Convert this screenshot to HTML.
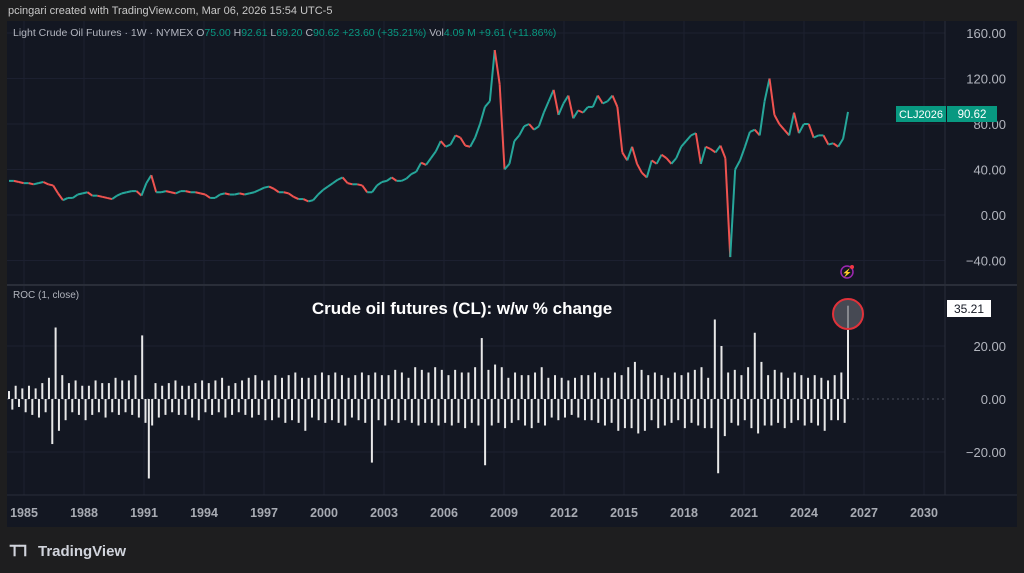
<!DOCTYPE html>
<html><head><meta charset="utf-8"><style>
html,body{margin:0;padding:0;background:#1e1e1f;width:1024px;height:573px;overflow:hidden;font-family:"Liberation Sans",sans-serif}
svg{position:absolute;left:0;top:0}
</style></head><body>
<svg id="c" width="1024" height="573" xmlns="http://www.w3.org/2000/svg">
<text x="8" y="14" fill="#c8c8c8" font-size="11">pcingari created with TradingView.com, Mar 06, 2026 15:54 UTC-5</text>
<rect x="7" y="21" width="1010" height="506" fill="#131722"/>
<g id="grid"></g>
<line x1="7" y1="285" x2="1017" y2="285" stroke="#2a2e39" stroke-width="2"/>
<line x1="945" y1="21" x2="945" y2="495" stroke="#2a2e39"/>
<line x1="7" y1="495" x2="1017" y2="495" stroke="#2a2e39"/>
<text x="13" y="36" font-size="10.5" fill="#b2b5be">Light Crude Oil Futures · 1W · NYMEX <tspan fill="#b2b5be">O</tspan><tspan fill="#089981">75.00</tspan> <tspan fill="#b2b5be">H</tspan><tspan fill="#089981">92.61</tspan> <tspan fill="#b2b5be">L</tspan><tspan fill="#089981">69.20</tspan> <tspan fill="#b2b5be">C</tspan><tspan fill="#089981">90.62</tspan> <tspan fill="#089981">+23.60 (+35.21%)</tspan> <tspan fill="#b2b5be">Vol</tspan><tspan fill="#089981">4.09 M</tspan> <tspan fill="#089981">+9.61 (+11.86%)</tspan></text>
<text x="13" y="298" font-size="10" fill="#b2b5be">ROC (1, close)</text>
<text x="462" y="314" font-size="17" font-weight="bold" fill="#ffffff" text-anchor="middle">Crude oil futures (CL): w/w % change</text>
<g id="price"></g>
<g id="roc"></g>
<g id="axes"></g>
<circle cx="848" cy="314" r="15" fill="#5d6068" fill-opacity="0.7" stroke="#e0323a" stroke-width="2"/>
<circle cx="847" cy="272" r="6" fill="none" stroke="#9c27b0" stroke-width="1.5"/>
<text x="847" y="275.5" font-size="8" fill="#c050e0" text-anchor="middle">⚡</text>
<circle cx="852" cy="267" r="2" fill="#f23645"/>
<rect x="896" y="106" width="50" height="16" fill="#089981"/>
<text x="921" y="118" font-size="11" fill="#fff" text-anchor="middle">CLJ2026</text>
<rect x="947" y="106" width="50" height="16" fill="#089981"/>
<text x="972" y="118" font-size="11.5" fill="#fff" text-anchor="middle">90.62</text>
<rect x="947" y="300" width="44" height="17" fill="#ffffff"/>
<text x="969" y="313" font-size="12" fill="#131722" text-anchor="middle">35.21</text>
<g>
<text x="10" y="556" font-size="15" font-weight="bold" fill="#d1d4dc">ꓔꓶ</text>
<text x="38" y="556" font-size="15" font-weight="bold" fill="#d1d4dc">TradingView</text>
</g>
</svg>
<script>
const years=[1985,1988,1991,1994,1997,2000,2003,2006,2009,2012,2015,2018,2021,2024,2027,2030];
const priceTicks=[160,120,80,40,0,-40];
const rocTicks=[20,0,-20];
// quarterly closes 1984.25 .. 2026.17
const prices=[30,30,29,28,28,27,28,29,27,26,
19,13,15,15, 18,19,20,17, 17,16,15,14, 17,19,20,21, 21,17,28,35, 20,20,21,20, 19,21,21,20, 20,19,18,15,
15,18,19,18, 18,19,18,19, 20,22,24,25, 23,20,20,19, 16,14,14,12, 13,18,22,25, 28,31,33,28, 27,27,26,20,
20,26,29,30, 33,30,30,32, 36,38,46,44, 50,56,65,60, 62,70,68,61, 60,68,80,95, 100,145,115,40, 45,65,70,78,
80,75,78,90, 100,110,88,98, 105,85,92,90, 95,95,105,98, 100,105,95,55, 48,60,45,37, 33,48,45,53, 50,45,50,60,
65,70,72,45, 60,58,55,61, 50,-37,40,48, 60,73,75,70, 100,120,88,80, 75,70,90,72, 80,80,68,70, 70,62,63,60, 67,90.62];
// ROC % change, ~6 per year, 1984.25 .. 2026.17
const roc=[3,-4,5,-3,4,-5,
5,-6,4,-7,6,-5, 8,-17,27,-12,9,-8, 6,-5,7,-6,5,-8, 5,-6,7,-5,6,-7, 6,-5,8,-6,7,-5, 7,-6,9,-7,24,-9, -30,-10,6,-7,5,-6, 6,-5,7,-6,5,-6,
5,-7,6,-8,7,-5, 6,-6,7,-5,8,-7, 5,-6,6,-5,7,-6, 8,-7,9,-6,7,-8, 7,-8,9,-7,8,-9, 9,-8,10,-9,8,-12, 8,-7,9,-8,10,-9,
9,-8,10,-9,9,-10, 8,-7,9,-8,10,-9, 9,-24,10,-8,9,-10, 9,-8,11,-9,10,-8, 8,-9,12,-10,11,-9, 10,-9,12,-10,11,-9, 9,-10,11,-9,10,-11, 10,-9,12,-10,23,-25,
11,-10,13,-9,12,-11, 8,-9,10,-8,9,-10, 9,-11,10,-9,12,-10, 8,-7,9,-8,8,-7, 7,-6,8,-7,9,-8, 9,-8,10,-9,8,-10, 8,-9,10,-12,9,-11, 12,-11,14,-13,11,-12,
9,-8,10,-11,9,-10, 8,-9,10,-8,9,-11, 10,-9,11,-10,12,-11, 8,-11,30,-28,20,-14, 10,-9,11,-10,9,-8, 12,-11,25,-13,14,-10, 9,-10,11,-9,10,-11,
8,-9,10,-8,9,-10, 8,-9,9,-10,8,-12, 7,-8,9,-8,10,-9, 35.21];
const seriesStart=1984.25, seriesEnd=2026.2;

const ns="http://www.w3.org/2000/svg";
const xT=t=>24+(t-1985)*20;
const yP=p=>215-p*1.1375;
const yR=v=>399-v*2.65;
const priceStep=(seriesEnd-seriesStart)/(prices.length-1);
const rocStep=(seriesEnd-seriesStart)/(roc.length-1);
function mk(tag,attrs,parent){const e=document.createElementNS(ns,tag);for(const k in attrs)e.setAttribute(k,attrs[k]);parent.appendChild(e);return e;}
const grid=document.getElementById('grid'),axes=document.getElementById('axes');
years.forEach(y=>{
  const l=mk('line',{x1:xT(y),x2:xT(y),y1:21,y2:495,stroke:'#1c2030'},grid);
  
  
  const t=mk('text',{x:xT(y),y:517,'font-size':12.5,'font-weight':'bold',fill:'#a8abb3','text-anchor':'middle'},axes);
  t.textContent=y;
  
  
});
priceTicks.forEach(p=>{
  const l=mk('line',{x1:7,x2:945,y1:yP(p),y2:yP(p),stroke:'#1c2030'},grid);
  
  
  const t=mk('text',{x:1006,y:yP(p)+5,'font-size':13,fill:'#b2b5be','text-anchor':'end'},axes);
  t.textContent=p.toFixed(2).replace('-','−');
  
  
});
rocTicks.forEach(v=>{
  const l=mk('line',{x1:7,x2:945,y1:yR(v),y2:yR(v),stroke:v===0?'#4a4e59':'#1c2030','stroke-dasharray':v===0?'2,3':''},grid);
  
  
  const t=mk('text',{x:1006,y:yR(v)+5,'font-size':13,fill:'#b2b5be','text-anchor':'end'},axes);
  t.textContent=v.toFixed(2).replace('-','−');
  
  
});
const pg=document.getElementById('price');
for(let i=1;i<prices.length;i++){
  const t0=seriesStart+(i-1)*priceStep,t1=seriesStart+i*priceStep;
  const up=prices[i]>=prices[i-1];
  const s=mk('line',{x1:xT(t0),y1:yP(prices[i-1]),x2:xT(t1),y2:yP(prices[i]),stroke:up?'#26a69a':'#ef5350','stroke-width':2},pg);
  
  
}
const rg=document.getElementById('roc');
roc.forEach((v,i)=>{
  const x=xT(seriesStart+i*rocStep);
  const b=mk('line',{x1:x,x2:x,y1:yR(0),y2:yR(v),stroke:'#e8e8e8','stroke-width':2},rg);
  
  
});
</script>
</body></html>
